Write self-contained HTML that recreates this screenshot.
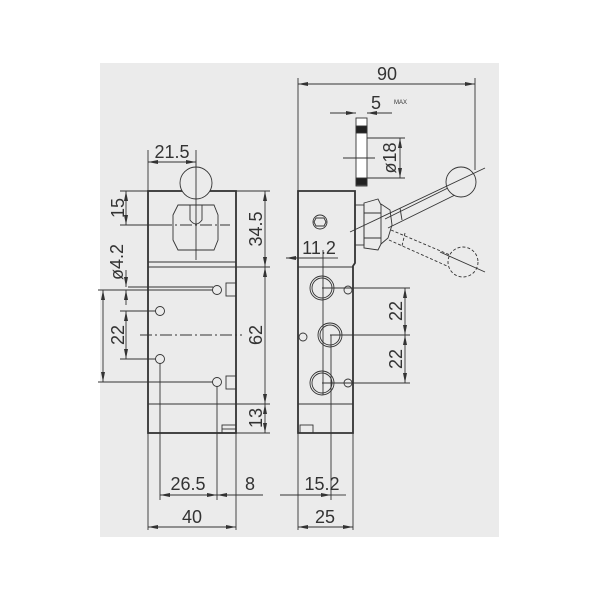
<!DOCTYPE html>
<html><head><style>body{margin:0;background:#fff}svg{display:block}</style></head><body>
<svg width="600" height="600" viewBox="0 0 600 600" xmlns="http://www.w3.org/2000/svg" font-family="Liberation Sans, DejaVu Sans, sans-serif">
<rect x="100" y="63" width="399" height="474" fill="#ebebeb"/>
<defs><marker id="a" viewBox="0 0 10 4" refX="10" refY="2" markerWidth="11" markerHeight="4" orient="auto-start-reverse" markerUnits="userSpaceOnUse"><path d="M0,0L10,2L0,4z" fill="#333"/></marker></defs>
<g stroke="#333" fill="none" stroke-width="0.9">
<!-- front view -->
<rect x="148" y="191" width="88" height="242" stroke-width="1.8"/>
<line x1="148" y1="262" x2="236" y2="262"/><line x1="148" y1="267" x2="236" y2="267"/>
<line x1="148" y1="404" x2="236" y2="404"/>
<circle cx="196" cy="183" r="16" fill="#ebebeb"/>
<path d="M178,205 L214,205 L218,215 L218,240 L214,250 L178,250 L173,240 L173,215Z"/>
<path d="M190,205 L190,220 Q196,228 202,220 L202,205"/>
<line x1="196" y1="160" x2="196" y2="260"/>
<line x1="160" y1="225" x2="230" y2="225" stroke-dasharray="12,3,2,3"/>
<line x1="140" y1="335" x2="242" y2="335" stroke-dasharray="12,3,2,3"/>
<circle cx="217" cy="290" r="4.5"/><circle cx="160" cy="311" r="4.5"/><circle cx="160" cy="359" r="4.5"/><circle cx="217" cy="382" r="4.5"/>
<rect x="226" y="283" width="10" height="13"/><rect x="226" y="376" width="10" height="13"/>
<rect x="222" y="425" width="14" height="8"/><line x1="222" y1="429" x2="236" y2="429"/>
<line x1="148" y1="150" x2="148" y2="530"/><line x1="196" y1="150" x2="196" y2="166"/>
<line x1="236" y1="433" x2="236" y2="530"/><line x1="160" y1="363" x2="160" y2="500"/><line x1="217" y1="386" x2="217" y2="500"/>
<line x1="236" y1="191" x2="270" y2="191"/><line x1="236" y1="267" x2="270" y2="267"/><line x1="236" y1="404" x2="270" y2="404"/><line x1="236" y1="433" x2="270" y2="433"/>
<line x1="120" y1="191" x2="148" y2="191"/><line x1="120" y1="225" x2="172" y2="225"/>
<line x1="120" y1="311" x2="156" y2="311"/><line x1="120" y1="359" x2="156" y2="359"/>
<line x1="98" y1="290" x2="213" y2="290"/><line x1="98" y1="382" x2="213" y2="382"/>
<line x1="128" y1="287" x2="213" y2="287"/>
<line x1="148" y1="162" x2="196" y2="162" marker-start="url(#a)" marker-end="url(#a)"/>
<line x1="126" y1="191" x2="126" y2="225" marker-start="url(#a)" marker-end="url(#a)"/>
<line x1="265" y1="191" x2="265" y2="267" marker-start="url(#a)" marker-end="url(#a)"/>
<line x1="265" y1="267" x2="265" y2="404" marker-start="url(#a)" marker-end="url(#a)"/>
<line x1="265" y1="404" x2="265" y2="433" marker-start="url(#a)" marker-end="url(#a)"/>
<line x1="126" y1="311" x2="126" y2="359" marker-start="url(#a)" marker-end="url(#a)"/>
<line x1="103" y1="290" x2="103" y2="382" marker-start="url(#a)" marker-end="url(#a)"/>
<line x1="126" y1="270" x2="126" y2="287" marker-end="url(#a)"/><line x1="126" y1="305" x2="126" y2="290" marker-end="url(#a)"/>
<line x1="160" y1="495" x2="217" y2="495" marker-start="url(#a)" marker-end="url(#a)"/>
<line x1="217" y1="495" x2="263" y2="495" marker-start="url(#a)"/>
<line x1="148" y1="527" x2="236" y2="527" marker-start="url(#a)" marker-end="url(#a)"/>
<!-- side view -->
<path d="M298,191 L355,191 L355,263 L353,266 L353,433 L298,433 Z" stroke-width="1.8"/>
<line x1="298" y1="267" x2="353" y2="267"/><line x1="298" y1="404" x2="353" y2="404"/>
<rect x="300" y="425" width="13" height="8"/>
<rect x="355" y="205" width="9" height="40"/>
<path d="M364,203 L378,199 L381,205 L381,244 L378,250 L364,248Z"/>
<line x1="364" y1="213" x2="381" y2="213"/><line x1="364" y1="238" x2="381" y2="238"/>
<path d="M381,204 L390,210 L392,225 L388,238 L381,244"/>
<line x1="385" y1="219" x2="452" y2="186"/><line x1="388" y1="228" x2="455" y2="195"/>
<line x1="400" y1="208" x2="402" y2="220"/>
<circle cx="461" cy="182" r="15" fill="#ebebeb"/>
<line x1="350" y1="232" x2="485" y2="168"/>
<g stroke-dasharray="3,2">
<line x1="391" y1="230" x2="450" y2="255"/><line x1="389" y1="240" x2="447" y2="266"/>
<line x1="405" y1="233" x2="402" y2="246"/>
<circle cx="463" cy="262" r="15"/>
</g>
<line x1="440" y1="252" x2="485" y2="272"/>
<circle cx="320" cy="222" r="7"/><path d="M316,218 L324,218 L326,222 L324,226 L316,226 L314,222Z"/>
<circle cx="322" cy="288" r="12"/><circle cx="322" cy="288" r="10"/>
<circle cx="330" cy="335" r="12"/><circle cx="330" cy="335" r="10"/>
<circle cx="322" cy="383" r="12"/><circle cx="322" cy="383" r="10"/>
<circle cx="348" cy="290" r="4"/><circle cx="303" cy="337" r="4"/><circle cx="348" cy="383" r="4"/>
<line x1="323" y1="250" x2="323" y2="395"/><line x1="331" y1="335" x2="331" y2="500"/>
<line x1="322" y1="288" x2="410" y2="288"/><line x1="330" y1="335" x2="410" y2="335"/><line x1="322" y1="383" x2="410" y2="383"/>
<rect x="356" y="118" width="11" height="68" fill="#fff"/>
<rect x="356" y="126" width="11" height="7" fill="#222"/><rect x="356" y="178" width="11" height="7" fill="#222"/>
<line x1="343" y1="158" x2="375" y2="158"/>
<line x1="367" y1="138" x2="405" y2="138"/><line x1="367" y1="178" x2="405" y2="178"/>
<line x1="298" y1="78" x2="298" y2="191"/><line x1="475" y1="78" x2="475" y2="170"/>
<line x1="298" y1="84" x2="475" y2="84" marker-start="url(#a)" marker-end="url(#a)"/>
<line x1="330" y1="113" x2="356" y2="113" marker-end="url(#a)"/>
<line x1="392" y1="113" x2="367" y2="113" marker-end="url(#a)"/>
<line x1="400" y1="138" x2="400" y2="178" marker-start="url(#a)" marker-end="url(#a)"/>
<line x1="286" y1="258" x2="323" y2="258" marker-start="url(#a)"/><line x1="323" y1="258" x2="338" y2="258"/>
<line x1="405" y1="288" x2="405" y2="335" marker-start="url(#a)" marker-end="url(#a)"/>
<line x1="405" y1="335" x2="405" y2="383" marker-start="url(#a)" marker-end="url(#a)"/>
<line x1="298" y1="433" x2="298" y2="530"/><line x1="353" y1="433" x2="353" y2="530"/>
<line x1="280" y1="495" x2="331" y2="495" marker-end="url(#a)"/><line x1="331" y1="495" x2="346" y2="495"/>
<line x1="298" y1="527" x2="353" y2="527" marker-start="url(#a)" marker-end="url(#a)"/>
</g>
<g fill="#333" font-size="18">
<text x="172" y="158" text-anchor="middle">21.5</text>
<text transform="translate(124,208) rotate(-90)" text-anchor="middle">15</text>
<text transform="translate(262,229) rotate(-90)" text-anchor="middle">34.5</text>
<text transform="translate(262,335) rotate(-90)" text-anchor="middle">62</text>
<text transform="translate(262,418) rotate(-90)" text-anchor="middle">13</text>
<text transform="translate(123,262) rotate(-90)" text-anchor="middle">ø4.2</text>
<text transform="translate(124,335) rotate(-90)" text-anchor="middle">22</text>
<text x="188" y="490" text-anchor="middle">26.5</text>
<text x="250" y="490" text-anchor="middle">8</text>
<text x="192" y="523" text-anchor="middle">40</text>
<text x="387" y="80" text-anchor="middle">90</text>
<text x="376" y="109" text-anchor="middle">5</text>
<text x="394" y="104" font-size="6">MAX</text>
<text transform="translate(396,158) rotate(-90)" text-anchor="middle">ø18</text>
<text x="319" y="254" text-anchor="middle">11.2</text>
<text transform="translate(402,311) rotate(-90)" text-anchor="middle">22</text>
<text transform="translate(402,359) rotate(-90)" text-anchor="middle">22</text>
<text x="322" y="490" text-anchor="middle">15.2</text>
<text x="325" y="523" text-anchor="middle">25</text>
</g>
</svg>
</body></html>
